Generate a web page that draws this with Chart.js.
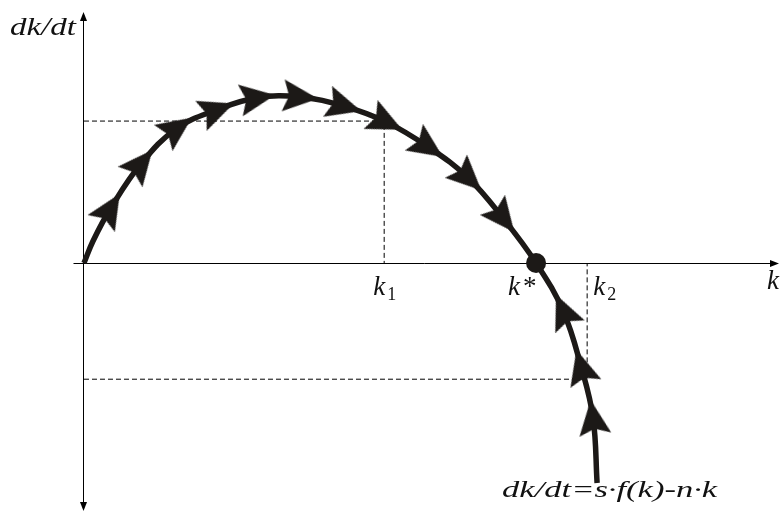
<!DOCTYPE html>
<html>
<head>
<meta charset="utf-8">
<script src="https://cdn.jsdelivr.net/npm/chart.js@4/dist/chart.umd.min.js"></script>
<style>
	html, body { margin:0; padding:0; background:#fff; }
	#wadah { width:782px; height:516px; }
</style>
</head>
<body>
<div id="wadah"><canvas id="grafik" width="782" height="516"></canvas></div>
<script>
// kurva dk/dt = s·f(k) - n·k
const kKurva  = [0, 0.20, 0.58, 1.26, 2.06, 2.94, 3.83, 4.78, 5.75, 6.68, 7.61, 8.50, 9.27, 10, 10.60, 11.00, 11.26, 11.35]
const dkKurva = [0, 0.53, 1.30, 2.39, 3.25, 3.69, 3.98, 4.00, 3.78, 3.40, 2.80, 2.05, 1.08, 0, -1.16, -2.51, -3.73, -5.30]

// posisi panah di atas kurva
const kPanah  = [0.58, 1.26, 2.06, 2.94, 3.83, 4.78, 5.75, 6.68, 7.61, 8.50, 9.27, 10.60, 11.00, 11.26]
const dkPanah = [1.30, 2.39, 3.25, 3.69, 3.98, 4.00, 3.78, 3.40, 2.80, 2.05, 1.08, -1.16, -2.51, -3.73]

// titik keseimbangan dan garis bantu
const kBintang = 10
const k1 = 6.64, dk1 = 3.42
const k2 = 11.13, dk2 = -2.80

// teks
const judulY = 'dk/dt'
const judulX = 'k'
const rumus = 'dk/dt=s·f(k)-n·k'

const hitam = '#1c1917'
const huruf = '"Liberation Serif", serif'

// gambar kepala panah (menghadap kanan)
const kepala = (() => {
	const b = document.createElement('canvas')
	b.width = 40; b.height = 40
	const c = b.getContext('2d')
	c.fillStyle = hitam
	c.beginPath()
	c.moveTo(38, 20)
	c.lineTo(3, 4)
	c.lineTo(9, 20)
	c.lineTo(3, 36)
	c.closePath()
	c.fill()
	return b
})()

// arah panah: ikut kurva, maju kalau dk/dt > 0, mundur kalau < 0
const sudut = a => {
	const i = a.dataIndex
	const {x, y} = a.chart.scales
	const k = kPanah[i]
	const j0 = kKurva.reduce((p, v, j) => v < k ? j : p, 0)
	const j1 = kKurva.findIndex(v => v > k)
	let dx = x.getPixelForValue(kKurva[j1]) - x.getPixelForValue(kKurva[j0])
	let dy = y.getPixelForValue(dkKurva[j1]) - y.getPixelForValue(dkKurva[j0])
	if (dkPanah[i] < 0) { dx = -dx; dy = -dy }
	return Math.atan2(dy, dx) * 180 / Math.PI
}

const tulis = (ctx, t, x, y, font, lebar) => {
	ctx.save()
	ctx.font = font
	ctx.fillStyle = '#111'
	ctx.textAlign = 'left'
	ctx.textBaseline = 'alphabetic'
	const w = ctx.measureText(t).width
	ctx.translate(x, y)
	ctx.scale(lebar ? lebar / w : 1, 1)
	ctx.fillText(t, 0, 0)
	ctx.restore()
}

const ujung = (ctx, x, y, dx, dy) => {
	// segitiga kecil di ujung sumbu
	const p = 9, l = 3.5
	ctx.beginPath()
	ctx.moveTo(x, y)
	ctx.lineTo(x - dx * p - dy * l, y - dy * p + dx * l)
	ctx.lineTo(x - dx * p + dy * l, y - dy * p - dx * l)
	ctx.closePath()
	ctx.fill()
}

const sumbu = {
	id: 'sumbu',
	beforeDatasetsDraw: c => {
		const {ctx, chartArea: a, scales: {x, y}} = c
		const x0 = Math.round(x.getPixelForValue(0)) - 0.5
		const y0 = Math.round(y.getPixelForValue(0)) + 0.5
		ctx.save()
		ctx.strokeStyle = '#000'
		ctx.fillStyle = '#000'
		ctx.lineWidth = 1
		ctx.beginPath()
		ctx.moveTo(x0 - 10, y0); ctx.lineTo(a.right - 6, y0)
		ctx.moveTo(x0, a.top + 16); ctx.lineTo(x0, a.bottom - 8)
		ctx.stroke()
		ujung(ctx, a.right - 3, y0, 1, 0)
		ujung(ctx, x0, a.top + 12, 0, -1)
		ujung(ctx, x0, a.bottom - 5, 0, 1)
		ctx.restore()
	},
	afterDatasetsDraw: c => {
		const {ctx, chartArea: a, scales: {x, y}} = c
		const x0 = x.getPixelForValue(0)
		const y0 = y.getPixelForValue(0)
		const fk = `italic 27px ${huruf}`
		const fs = `18px ${huruf}`
		tulis(ctx, judulY, x0 - 74, a.top + 35, `italic 26px ${huruf}`, 66)
		tulis(ctx, judulX, a.right - 15, y0 + 26, fk)
		const p1 = x.getPixelForValue(k1)
		tulis(ctx, 'k', p1 - 11, y0 + 32, fk)
		tulis(ctx, '1', p1 + 3, y0 + 37, fs)
		const pb = x.getPixelForValue(kBintang)
		tulis(ctx, 'k', pb - 28, y0 + 32, fk)
		tulis(ctx, '*', pb - 13, y0 + 32, `27px ${huruf}`)
		const p2 = x.getPixelForValue(k2)
		tulis(ctx, 'k', p2 + 6, y0 + 32, fk)
		tulis(ctx, '2', p2 + 20, y0 + 37, fs)
		const n = kKurva.length - 1
		tulis(ctx, rumus, x.getPixelForValue(kKurva[n]) - 95, y.getPixelForValue(dkKurva[n]) + 14, `italic 24px ${huruf}`, 215)
	}
}

const buat = () => new Chart(document.getElementById('grafik'), {
	type: 'line',
	data: {
		datasets: [
			{
				label: 'k*',
				data: [{x: kBintang, y: 0}],
				showLine: false,
				pointRadius: 10,
				pointBackgroundColor: hitam,
				pointBorderWidth: 0,
				order: 0,
			},
			{
				label: 'panah',
				data: kPanah.map((v, i) => ({x: v, y: dkPanah[i]})),
				showLine: false,
				pointStyle: kepala,
				pointRadius: 16,
				pointRotation: sudut,
				order: 1,
			},
			{
				label: 'kurva',
				data: kKurva.map((v, i) => ({x: v, y: dkKurva[i]})),
				borderColor: hitam,
				borderWidth: 5.5,
				borderCapStyle: 'butt',
				tension: 0.4,
				pointRadius: 0,
				fill: false,
				order: 2,
			},
			{
				label: 'bantu1',
				data: [{x: 0, y: dk1}, {x: k1, y: dk1}, {x: k1, y: 0}],
				borderColor: '#000',
				borderWidth: 1,
				borderDash: [5, 3],
				tension: 0,
				pointRadius: 0,
				order: 3,
			},
			{
				label: 'bantu2',
				data: [{x: 0, y: dk2}, {x: k2, y: dk2}, {x: k2, y: 0}],
				borderColor: '#000',
				borderWidth: 1,
				borderDash: [5, 3],
				tension: 0,
				pointRadius: 0,
				order: 3,
			},
		]
	},
	options: {
		responsive: false,
		animation: false,
		layout: { padding: 0, autoPadding: false },
		plugins: {
			legend: { display: false },
			tooltip: { enabled: false },
		},
		scales: {
			x: { type: 'linear', min: -1.858, max: 15.44, display: false },
			y: { type: 'linear', min: -6.096, max: 6.337, display: false },
		},
	},
	plugins: [sumbu],
})

Promise.all([
	document.fonts.load(`italic 26px ${huruf}`),
	document.fonts.load(`18px ${huruf}`),
]).then(buat, buat)
</script>
</body>
</html>
